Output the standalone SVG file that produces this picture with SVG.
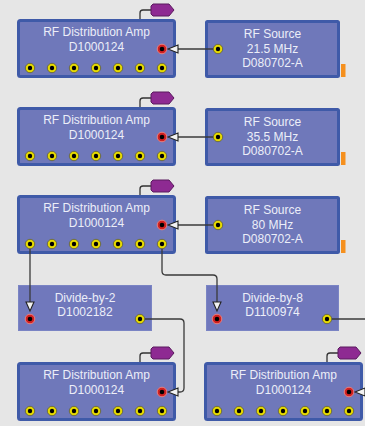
<svg xmlns="http://www.w3.org/2000/svg" width="365" height="426" viewBox="0 0 365 426">
<style>
.bg{fill:#e6e6e6}
.box{fill:#6f78ba;stroke:#3f5aa8;stroke-width:3}
.dbox{fill:#7078bc;stroke:#7a84c4;stroke-width:1}
.t{font-family:"Liberation Sans",Arial,sans-serif;font-size:12px;fill:#eceef8;text-anchor:middle}
.yp{fill:#e6da00;stroke:#5a5a40;stroke-width:0.8}
.rp{fill:#d02020;stroke:#e88080;stroke-width:1}
.pc{fill:#000}
.tag{fill:#8e2a92;stroke:#5a1a5e;stroke-width:1}
.tl{fill:none;stroke:#333;stroke-width:1.3}
.w{fill:none;stroke:#3a3a3a;stroke-width:1.3}
.ah{fill:#f2f2f2;stroke:#222;stroke-width:1.1}
.org{fill:#f5901e}
</style>
<defs>
<g id="yport"><circle r="4.7" class="yp"/><circle r="2.2" class="pc"/></g>
<g id="rport"><circle r="4.8" class="rp"/><circle r="2.3" class="pc"/></g>
</defs>
<rect class="bg" x="0" y="0" width="365" height="426"/>

<g id="amp1" transform="translate(17,19)">
<path class="tl" d="M123,0 V-6 Q123,-9 126,-9 H134"/>
<polygon class="tag" points="136,-15 152,-15 157,-9 152,-3 136,-3 134,-5 134,-13"/>
<rect class="box" x="1.5" y="1.5" width="156" height="56" rx="2"/>
<text class="t" x="79.5" y="17">RF Distribution Amp</text>
<text class="t" x="79.5" y="32">D1000124</text>
<use href="#rport" x="145" y="30"/>
<use href="#yport" x="13" y="49"/><use href="#yport" x="35" y="49"/><use href="#yport" x="57" y="49"/><use href="#yport" x="79" y="49"/><use href="#yport" x="101" y="49"/><use href="#yport" x="123" y="49"/><use href="#yport" x="145" y="49"/>
</g>

<g id="amp2" transform="translate(17,107)">
<path class="tl" d="M123,0 V-6 Q123,-9 126,-9 H134"/>
<polygon class="tag" points="136,-15 152,-15 157,-9 152,-3 136,-3 134,-5 134,-13"/>
<rect class="box" x="1.5" y="1.5" width="156" height="56" rx="2"/>
<text class="t" x="79.5" y="17">RF Distribution Amp</text>
<text class="t" x="79.5" y="32">D1000124</text>
<use href="#rport" x="145" y="30"/>
<use href="#yport" x="13" y="49"/><use href="#yport" x="35" y="49"/><use href="#yport" x="57" y="49"/><use href="#yport" x="79" y="49"/><use href="#yport" x="101" y="49"/><use href="#yport" x="123" y="49"/><use href="#yport" x="145" y="49"/>
</g>

<g id="amp3" transform="translate(17,195)">
<path class="tl" d="M123,0 V-6 Q123,-9 126,-9 H134"/>
<polygon class="tag" points="136,-15 152,-15 157,-9 152,-3 136,-3 134,-5 134,-13"/>
<rect class="box" x="1.5" y="1.5" width="156" height="56" rx="2"/>
<text class="t" x="79.5" y="17">RF Distribution Amp</text>
<text class="t" x="79.5" y="32">D1000124</text>
<use href="#rport" x="145" y="30"/>
<use href="#yport" x="13" y="49"/><use href="#yport" x="35" y="49"/><use href="#yport" x="57" y="49"/><use href="#yport" x="79" y="49"/><use href="#yport" x="101" y="49"/><use href="#yport" x="123" y="49"/><use href="#yport" x="145" y="49"/>
</g>

<g id="amp4" transform="translate(17,362)">
<path class="tl" d="M123,0 V-6 Q123,-9 126,-9 H134"/>
<polygon class="tag" points="136,-15 152,-15 157,-9 152,-3 136,-3 134,-5 134,-13"/>
<rect class="box" x="1.5" y="1.5" width="156" height="56" rx="2"/>
<text class="t" x="79.5" y="17">RF Distribution Amp</text>
<text class="t" x="79.5" y="32">D1000124</text>
<use href="#rport" x="145" y="30"/>
<use href="#yport" x="13" y="49"/><use href="#yport" x="35" y="49"/><use href="#yport" x="57" y="49"/><use href="#yport" x="79" y="49"/><use href="#yport" x="101" y="49"/><use href="#yport" x="123" y="49"/><use href="#yport" x="145" y="49"/>
</g>

<g id="amp5" transform="translate(204,362)">
<path class="tl" d="M123,0 V-6 Q123,-9 126,-9 H134"/>
<polygon class="tag" points="136,-15 152,-15 157,-9 152,-3 136,-3 134,-5 134,-13"/>
<rect class="box" x="1.5" y="1.5" width="156" height="56" rx="2"/>
<text class="t" x="79.5" y="17">RF Distribution Amp</text>
<text class="t" x="79.5" y="32">D1000124</text>
<use href="#rport" x="145" y="30"/>
<use href="#yport" x="13" y="49"/><use href="#yport" x="35" y="49"/><use href="#yport" x="57" y="49"/><use href="#yport" x="79" y="49"/><use href="#yport" x="101" y="49"/><use href="#yport" x="123" y="49"/><use href="#yport" x="145" y="49"/>
</g>

<g id="src1" transform="translate(205,20)">
<rect class="box" x="1.5" y="1.5" width="132" height="55" rx="1"/>
<rect class="org" x="136" y="44" width="4.5" height="13"/>
<text class="t" x="67.5" y="18">RF Source</text>
<text class="t" x="67.5" y="33">21.5 MHz</text>
<text class="t" x="67.5" y="47">D080702-A</text>
<use href="#yport" x="13" y="29"/>
</g>

<g id="src2" transform="translate(205,108)">
<rect class="box" x="1.5" y="1.5" width="132" height="55" rx="1"/>
<rect class="org" x="136" y="44" width="4.5" height="13"/>
<text class="t" x="67.5" y="18">RF Source</text>
<text class="t" x="67.5" y="33">35.5 MHz</text>
<text class="t" x="67.5" y="47">D080702-A</text>
<use href="#yport" x="13" y="29"/>
</g>

<g id="src3" transform="translate(205,196)">
<rect class="box" x="1.5" y="1.5" width="132" height="55" rx="1"/>
<rect class="org" x="136" y="44" width="4.5" height="13"/>
<text class="t" x="67.5" y="18">RF Source</text>
<text class="t" x="67.5" y="33">80 MHz</text>
<text class="t" x="67.5" y="47">D080702-A</text>
<use href="#yport" x="13" y="29"/>
</g>

<g id="div2" transform="translate(18,285)">
<rect class="dbox" x="0.5" y="0.5" width="133" height="45"/>
<text class="t" x="67" y="17">Divide-by-2</text>
<text class="t" x="67" y="31">D1002182</text>
<use href="#rport" x="12" y="34"/>
<use href="#yport" x="122" y="34"/>
</g>

<g id="div8" transform="translate(206,285)">
<rect class="dbox" x="0.5" y="0.5" width="132" height="45"/>
<text class="t" x="66.5" y="17">Divide-by-8</text>
<text class="t" x="66.5" y="31">D1100974</text>
<use href="#rport" x="11" y="34"/>
<use href="#yport" x="121" y="34"/>
</g>

<g id="connectors">
<path class="w" d="M213,49 H178"/>
<polygon class="ah" points="168,49 178,45 178,53"/>
<path class="w" d="M213,137 H178"/>
<polygon class="ah" points="168,137 178,133 178,141"/>
<path class="w" d="M213,225 H178"/>
<polygon class="ah" points="168,225 178,221 178,229"/>
<path class="w" d="M30,249 V302"/>
<polygon class="ah" points="30,311 26,302 34,302"/>
<path class="w" d="M162,249 V271 Q162,275 166,275 H213 Q217,275 217,279 V302"/>
<polygon class="ah" points="217,311 213,302 221,302"/>
<path class="w" d="M145,319 H180 Q184,319 184,323 V388 Q184,392 180,392 H178"/>
<polygon class="ah" points="168,392 178,388 178,396"/>
<path class="w" d="M332,319 H365"/>
<polygon class="ah" points="355,392 365,388 365,396"/>
</g>
</svg>
